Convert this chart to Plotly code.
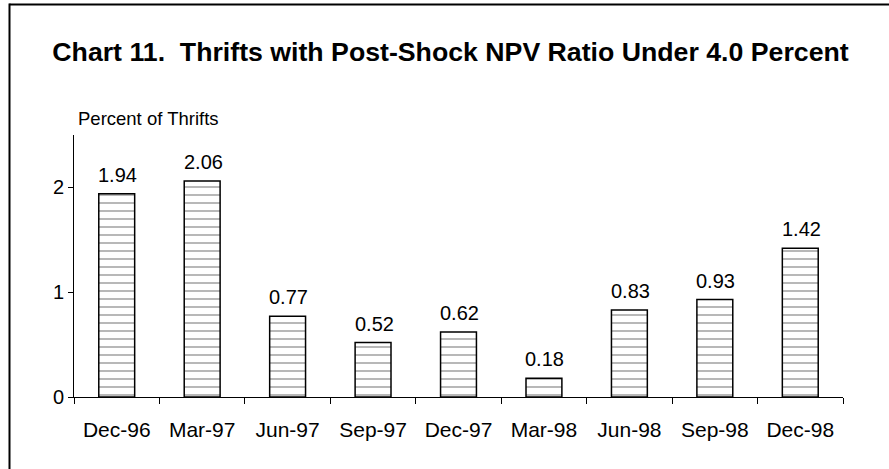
import plotly.graph_objects as go

categories = ["Dec-96", "Mar-97", "Jun-97", "Sep-97", "Dec-97", "Mar-98", "Jun-98", "Sep-98", "Dec-98"]
values = [1.94, 2.06, 0.77, 0.52, 0.62, 0.18, 0.83, 0.93, 1.42]
labels = ["1.94", "2.06", "0.77", "0.52", "0.62", "0.18", "0.83", "0.93", "1.42"]
ytick_vals = [0, 1, 2]

W, H = 889, 469
L, R, T, B = 74, 46, 135, 72
pw, ph = W - L - R, H - T - B

def px_x(p):
    return (p - L) / pw

def px_y(p):
    return (H - B - p) / ph

FONT = "Liberation Sans, Arial, sans-serif"

fig = go.Figure(go.Bar(
    x=categories, y=values,
    width=0.42,
    marker=dict(color="white", line=dict(color="black", width=1.5),
                pattern=dict(shape="-", fgcolor="black", bgcolor="white", size=8, solidity=0.14)),
))

annotations = [dict(text="Percent of Thrifts", xref="paper", yref="paper",
                    x=px_x(76), y=px_y(119), xanchor="left", yanchor="middle",
                    showarrow=False, font=dict(size=18.5, family=FONT))]
for c, v, t in zip(categories, values, labels):
    annotations.append(dict(x=c, y=v, xref="x", yref="y", text=t, showarrow=False,
                            xanchor="center", yanchor="bottom", yshift=6, xshift=1,
                            font=dict(size=20, family=FONT, color="black")))

fig.update_layout(
    width=W, height=H,
    margin=dict(l=L, r=R, t=T, b=B),
    paper_bgcolor="white", plot_bgcolor="white",
    showlegend=False,
    font=dict(family=FONT, color="black", size=20),
    title=dict(text="<b>Chart 11.  Thrifts with Post-Shock NPV Ratio Under 4.0 Percent</b>",
               x=px_x(450.5), xanchor="center", y=1 - 52 / H, yanchor="middle",
               xref="paper",
               font=dict(size=26.7, family=FONT, color="black")),
    xaxis=dict(showline=True, linecolor="black", linewidth=1, ticks="outside", ticklen=6,
               tickson="boundaries", tickcolor="black", showgrid=False,
               tickfont=dict(size=21, family=FONT), ticklabelstandoff=14),
    yaxis=dict(range=[0, 2.5], showline=True, linecolor="black", linewidth=1, ticks="outside",
               ticklen=5, tickcolor="black", showgrid=False, zeroline=False,
               tickvals=ytick_vals, tickfont=dict(size=20, family=FONT)),
    annotations=annotations,
    shapes=[
        dict(type="line", xref="paper", yref="paper",
             x0=px_x(9.5), x1=px_x(W + 5), y0=px_y(4.5), y1=px_y(4.5),
             line=dict(color="black", width=2), layer="above"),
        dict(type="line", xref="paper", yref="paper",
             x0=px_x(9.5), x1=px_x(9.5), y0=px_y(3.5), y1=px_y(H + 5),
             line=dict(color="black", width=2), layer="above"),
    ],
)

fig.write_html(
    "out.html", config={"displayModeBar": False},
    post_script=("document.documentElement.style.overflow='hidden';"
                 "document.documentElement.style.margin='0';"
                 "document.body.style.margin='0';document.body.style.overflow='hidden';"),
)
